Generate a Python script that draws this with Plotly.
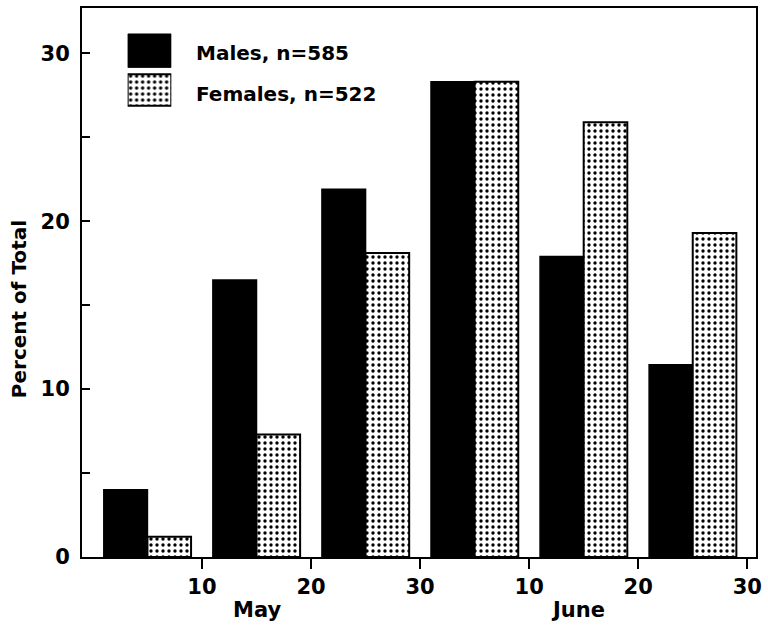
import plotly.graph_objects as go

# Data (percent of total per 10-day period)
period_mid = [5, 15, 25, 35, 45, 55]          # mid-points of 10-day periods (axis units)
males = [4.0, 16.5, 21.9, 28.3, 17.9, 11.45]
females = [1.2, 7.3, 18.1, 28.3, 25.9, 19.3]
series_names = ["Males, n=585", "Females, n=522"]
xtick_vals = [10, 20, 30, 40, 50, 60]
xtick_text = ["10", "20", "30", "10", "20", "30"]
ytick_vals = [0, 10, 20, 30]
month_labels = ["May", "June"]
month_pos = [15, 44.5]

FONT = "DejaVu Sans"
dots = dict(shape=".", fgcolor="black", bgcolor="white", size=6, solidity=0.25, fillmode="replace")

fig = go.Figure()
fig.add_trace(go.Bar(x=period_mid, y=males, width=4, offset=-4, name=series_names[0],
                     marker=dict(color="black", line=dict(color="black", width=1.5)),
                     showlegend=False))
fig.add_trace(go.Bar(x=period_mid, y=females, width=4, offset=0, name=series_names[1],
                     marker=dict(color="white", pattern=dots, line=dict(color="black", width=2)),
                     showlegend=False))

# Legend swatches on an inset axis
fig.add_trace(go.Bar(y=[series_names[0]], x=[1], orientation="h", width=0.85,
                     marker=dict(color="black", line=dict(color="black", width=1)),
                     xaxis="x2", yaxis="y2", showlegend=False, hoverinfo="skip"))
fig.add_trace(go.Bar(y=[series_names[1]], x=[1], orientation="h", width=0.8,
                     marker=dict(color="white", pattern=dots, line=dict(color="black", width=2)),
                     xaxis="x2", yaxis="y2", showlegend=False, hoverinfo="skip"))

bold = dict(family=FONT, size=20, color="black", weight="bold")
bold21 = dict(family=FONT, size=21, color="black", weight="bold")
annotations = []
for name, yy in zip(series_names, [0.918, 0.843]):
    annotations.append(dict(text=name, xref="paper", yref="paper", x=0.166, y=yy,
                            xanchor="left", yanchor="middle", showarrow=False, font=bold))
for lab, pos in zip(month_labels, month_pos):
    annotations.append(dict(text=lab, xref="x", yref="paper", x=pos, y=0, yshift=-53,
                            xanchor="center", yanchor="middle", showarrow=False, font=bold21))
annotations.append(dict(text="Percent of Total", xref="paper", yref="paper", x=-0.093, y=0.452,
                        textangle=-90, xanchor="center", yanchor="middle", showarrow=False,
                        font=bold))

fig.update_layout(
    width=768, height=627,
    margin=dict(l=82, r=7, t=6, b=70),
    plot_bgcolor="white", paper_bgcolor="white",
    font=dict(family=FONT, size=21, color="black", weight="bold"),
    barmode="overlay",
    annotations=annotations,
    xaxis=dict(range=[-1, 60.8], tickvals=xtick_vals, ticktext=xtick_text,
               ticks="outside", ticklen=10, tickwidth=2, tickcolor="black",
               showline=True, linecolor="black", linewidth=2, mirror=True,
               showgrid=False, zeroline=False),
    yaxis=dict(range=[0, 32.7], tickvals=ytick_vals,
               ticks="inside", ticklen=8, tickwidth=2, tickcolor="black",
               minor=dict(tickvals=[5, 15, 25], ticks="inside", ticklen=8, tickwidth=2, tickcolor="black"),
               ticklabelstandoff=6,
               showline=True, linecolor="black", linewidth=2, mirror=True,
               showgrid=False, zeroline=False),
    xaxis2=dict(domain=[0.0677, 0.1325], range=[0, 1], visible=False, anchor="y2", fixedrange=True),
    yaxis2=dict(domain=[0.815, 0.958], visible=False, anchor="x2", autorange="reversed",
                categoryorder="array", categoryarray=series_names, fixedrange=True),
)

fig.write_html("out.html", config={"displayModeBar": False},
               post_script="document.body.style.margin='0px';")
